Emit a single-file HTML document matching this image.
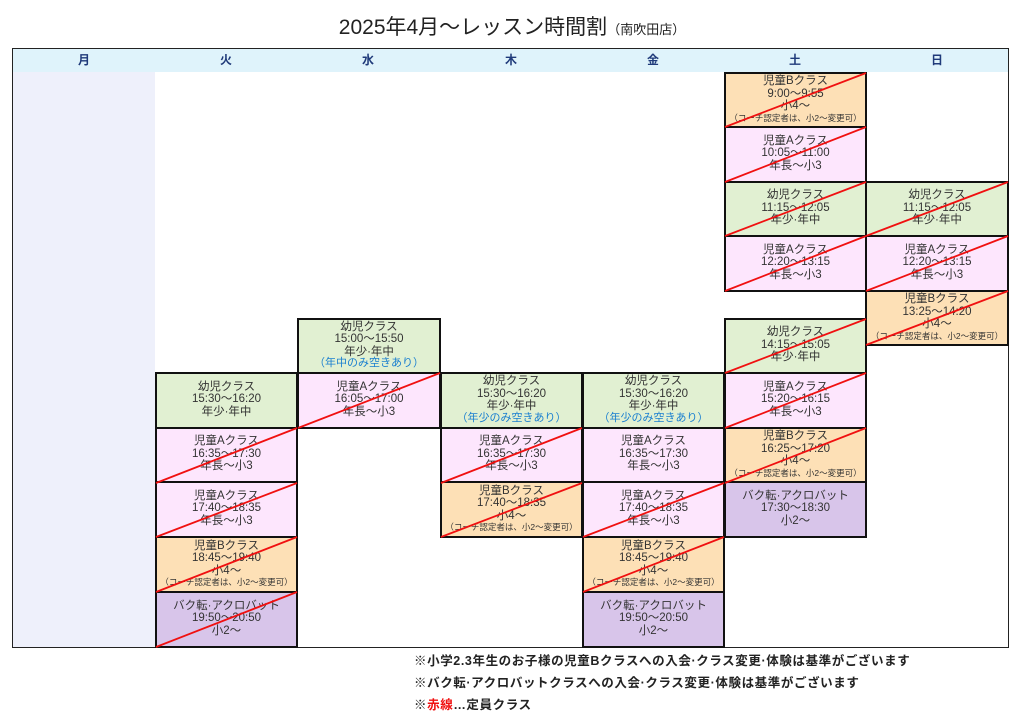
<!DOCTYPE html>
<html><head><meta charset="utf-8">
<style>
body{margin:0;width:1024px;height:714px;background:#fff;position:relative;overflow:hidden;font-family:"Liberation Sans","Noto Sans CJK JP",sans-serif;}
.a{position:absolute;box-sizing:border-box}
.c{position:absolute;box-sizing:border-box;border:2px solid #111;display:flex;flex-direction:column;align-items:center;justify-content:center;padding-bottom:2px;font-size:11.5px;line-height:12.6px;color:#333;text-align:center}
.c .s{font-size:8.5px;line-height:10px}
.c .b{color:#1a7fd0;font-size:11px;line-height:11px}
.o{background:#fde0b6}.p{background:#fde6fd}.g{background:#e1f0d2}.v{background:#d8c5ea}
.h{position:absolute;top:49px;height:23px;width:142px;text-align:center;font-size:12px;line-height:23px;color:#1f3a7a;font-weight:bold}
.n{position:absolute;left:414px;font-size:12.5px;font-weight:bold;color:#222;letter-spacing:0.6px}
</style></head><body>
<div class="a" style="left:0;top:14px;width:1024px;text-align:center;font-size:21px;color:#222;line-height:28px;padding-left:0">2025年4月～レッスン時間割<span style="font-size:13px">（南吹田店）</span></div>
<div class="a" style="left:12px;top:48px;width:997px;height:600px;border:1.5px solid #222;"></div>
<div class="a" style="left:13px;top:49px;width:995px;height:23px;background:#dff3fb"></div>
<div class="a" style="left:13px;top:72px;width:142px;height:575px;background:#eef0fb"></div>
<div class="h" style="left:13px">月</div><div class="h" style="left:155px">火</div><div class="h" style="left:297px">水</div><div class="h" style="left:440px">木</div><div class="h" style="left:582px">金</div><div class="h" style="left:724px">土</div><div class="h" style="left:866px">日</div>

<!-- 土 -->
<div class="c o" style="left:724px;top:72px;width:143px;height:56px">児童Bクラス<br>9:00～9:55<br>小4～<span class="s">（コーチ認定者は、小2～変更可）</span></div>
<div class="c p" style="left:724px;top:126px;width:143px;height:57px">児童Aクラス<br>10:05～11:00<br>年長～小3</div>
<div class="c g" style="left:724px;top:181px;width:143px;height:56px">幼児クラス<br>11:15～12:05<br>年少·年中</div>
<div class="c p" style="left:724px;top:235px;width:143px;height:57px">児童Aクラス<br>12:20～13:15<br>年長～小3</div>
<div class="c g" style="left:724px;top:318px;width:143px;height:56px">幼児クラス<br>14:15～15:05<br>年少·年中</div>
<div class="c p" style="left:724px;top:372px;width:143px;height:57px">児童Aクラス<br>15:20～16:15<br>年長～小3</div>
<div class="c o" style="left:724px;top:427px;width:143px;height:56px">児童Bクラス<br>16:25～17:20<br>小4～<span class="s">（コーチ認定者は、小2～変更可）</span></div>
<div class="c v" style="left:724px;top:481px;width:143px;height:57px">バク転·アクロバット<br>17:30～18:30<br>小2～</div>
<!-- 日 -->
<div class="c g" style="left:865px;top:181px;width:144px;height:56px">幼児クラス<br>11:15～12:05<br>年少·年中</div>
<div class="c p" style="left:865px;top:235px;width:144px;height:57px">児童Aクラス<br>12:20～13:15<br>年長～小3</div>
<div class="c o" style="left:865px;top:290px;width:144px;height:56px">児童Bクラス<br>13:25～14:20<br>小4～<span class="s">（コーチ認定者は、小2～変更可）</span></div>
<!-- 水 -->
<div class="c g" style="left:297px;top:318px;width:144px;height:56px">幼児クラス<br>15:00～15:50<br>年少·年中<span class="b">（年中のみ空きあり）</span></div>
<div class="c p" style="left:297px;top:372px;width:144px;height:57px">児童Aクラス<br>16:05～17:00<br>年長～小3</div>
<!-- 火 -->
<div class="c g" style="left:155px;top:372px;width:143px;height:57px">幼児クラス<br>15:30～16:20<br>年少·年中</div>
<div class="c p" style="left:155px;top:427px;width:143px;height:56px">児童Aクラス<br>16:35～17:30<br>年長～小3</div>
<div class="c p" style="left:155px;top:481px;width:143px;height:57px">児童Aクラス<br>17:40～18:35<br>年長～小3</div>
<div class="c o" style="left:155px;top:536px;width:143px;height:57px">児童Bクラス<br>18:45～19:40<br>小4～<span class="s">（コーチ認定者は、小2～変更可）</span></div>
<div class="c v" style="left:155px;top:591px;width:143px;height:57px">バク転·アクロバット<br>19:50～20:50<br>小2～</div>
<!-- 木 -->
<div class="c g" style="left:440px;top:372px;width:143px;height:57px">幼児クラス<br>15:30～16:20<br>年少·年中<span class="b">（年少のみ空きあり）</span></div>
<div class="c p" style="left:440px;top:427px;width:143px;height:56px">児童Aクラス<br>16:35～17:30<br>年長～小3</div>
<div class="c o" style="left:440px;top:481px;width:143px;height:57px">児童Bクラス<br>17:40～18:35<br>小4～<span class="s">（コーチ認定者は、小2～変更可）</span></div>
<!-- 金 -->
<div class="c g" style="left:582px;top:372px;width:143px;height:57px">幼児クラス<br>15:30～16:20<br>年少·年中<span class="b">（年少のみ空きあり）</span></div>
<div class="c p" style="left:582px;top:427px;width:143px;height:56px">児童Aクラス<br>16:35～17:30<br>年長～小3</div>
<div class="c p" style="left:582px;top:481px;width:143px;height:57px">児童Aクラス<br>17:40～18:35<br>年長～小3</div>
<div class="c o" style="left:582px;top:536px;width:143px;height:57px">児童Bクラス<br>18:45～19:40<br>小4～<span class="s">（コーチ認定者は、小2～変更可）</span></div>
<div class="c v" style="left:582px;top:591px;width:143px;height:57px">バク転·アクロバット<br>19:50～20:50<br>小2～</div>

<svg class="a" style="left:0;top:0" width="1024" height="714"><g stroke="#f01010" stroke-width="1.8">
<line x1="725" y1="127" x2="866" y2="73"/>
<line x1="725" y1="182" x2="866" y2="127"/>
<line x1="725" y1="236" x2="866" y2="182"/>
<line x1="725" y1="291" x2="866" y2="236"/>
<line x1="725" y1="373" x2="866" y2="319"/>
<line x1="725" y1="428" x2="866" y2="373"/>
<line x1="725" y1="483" x2="866" y2="428"/>
<line x1="866" y1="236" x2="1008" y2="182"/>
<line x1="866" y1="291" x2="1008" y2="236"/>
<line x1="866" y1="345" x2="1008" y2="291"/>
<line x1="298" y1="428" x2="440" y2="373"/>
<line x1="156" y1="483" x2="297" y2="428"/>
<line x1="156" y1="537" x2="297" y2="483"/>
<line x1="156" y1="592" x2="297" y2="537"/>
<line x1="156" y1="647" x2="297" y2="592"/>
<line x1="441" y1="483" x2="582" y2="428"/>
<line x1="441" y1="537" x2="582" y2="483"/>
<line x1="583" y1="537" x2="724" y2="483"/>
<line x1="583" y1="592" x2="724" y2="537"/>
</g></svg>

<div class="n" style="top:650px">※小学2.3年生のお子様の児童Bクラスへの入会·クラス変更·体験は基準がございます</div>
<div class="n" style="top:672px">※バク転·アクロバットクラスへの入会·クラス変更·体験は基準がございます</div>
<div class="n" style="top:694px">※<span style="color:#f01010">赤線</span>…定員クラス</div>
</body></html>
